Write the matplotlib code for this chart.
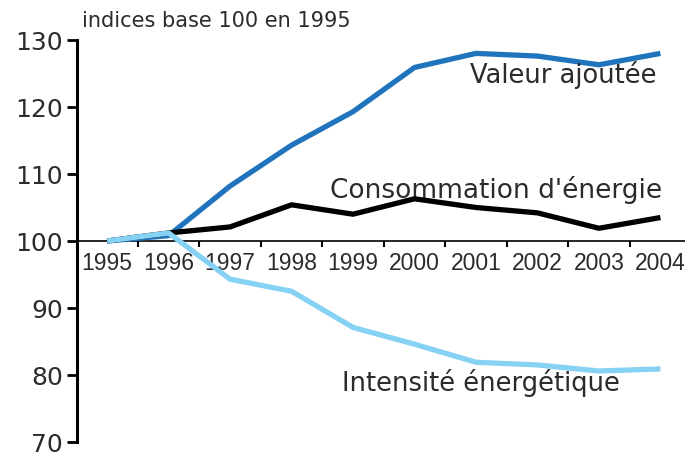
import matplotlib.pyplot as plt

years = [1995, 1996, 1997, 1998, 1999, 2000, 2001, 2002, 2003, 2004]
valeur_ajoutee = [100, 100.8, 108.2, 114.3, 119.3, 125.9, 128.0, 127.6, 126.3, 128.0]
consommation = [100, 101.2, 102.1, 105.4, 104.0, 106.3, 105.0, 104.2, 101.9, 103.5]
intensite = [100, 101.2, 94.3, 92.5, 87.1, 84.6, 81.9, 81.5, 80.6, 80.9]
y_ticks = [70, 80, 90, 100, 110, 120, 130]

DARK_BLUE = "#1f74bd"
LIGHT_BLUE = "#86d2f4"
TEXT = "#2b2b2b"
WIDE = ["DejaVu Sans"]           # the source lettering is rather wide
NARROW = ["Liberation Sans", "DejaVu Sans"]

plt.rcParams["font.family"] = NARROW

fig = plt.figure(figsize=(6.85, 4.55), dpi=100)
ax = fig.add_axes([77 / 685, 13 / 455, 608 / 685, 402 / 455])

ax.plot(years, valeur_ajoutee, color=DARK_BLUE, lw=3.8, solid_capstyle="butt", zorder=3)
ax.plot(years, consommation, color="black", lw=3.8, solid_capstyle="butt", zorder=4)
ax.plot(years, intensite, color=LIGHT_BLUE, lw=3.8, solid_capstyle="butt", zorder=5)

ax.set_xlim(1994.51, 2004.4)
ax.set_ylim(70, 130)

for side in ("top", "right"):
    ax.spines[side].set_visible(False)
ax.spines["left"].set_linewidth(2.2)
ax.spines["bottom"].set_linewidth(1.2)
ax.spines["bottom"].set_position(("data", 100))

# y axis
ax.set_yticks(y_ticks)
ax.set_yticklabels([str(v) for v in y_ticks], family=WIDE)
ax.tick_params(axis="y", length=7, width=2, labelsize=18, pad=3, labelcolor=TEXT)

# x axis: ticks between years, labels under each year
ax.set_xticks([y + 0.5 for y in years[:-1]])
ax.set_xticklabels([])
ax.set_xticks(years, minor=True)
ax.set_xticklabels([str(y) for y in years], minor=True)
ax.tick_params(axis="x", which="major", direction="out", length=4, width=1.5)
ax.tick_params(axis="x", which="minor", length=0, labelsize=16.5, pad=8, labelcolor=TEXT)

fig.text(82 / 685, 1 - 27 / 455, "indices base 100 en 1995", fontsize=15, color=TEXT,
         family=WIDE, ha="left", va="baseline")

ax.text(2003.94, 123.6, "Valeur ajoutée", fontsize=18.5, color=TEXT, family=WIDE,
        ha="right", va="baseline")
ax.text(2004.02, 106.4, "Consommation d'énergie", fontsize=19, color=TEXT, family=WIDE,
        ha="right", va="baseline")
ax.text(1998.82, 77.6, "Intensité énergétique", fontsize=18.5, color=TEXT, family=WIDE,
        ha="left", va="baseline")

fig.savefig("out.png", dpi=100)
